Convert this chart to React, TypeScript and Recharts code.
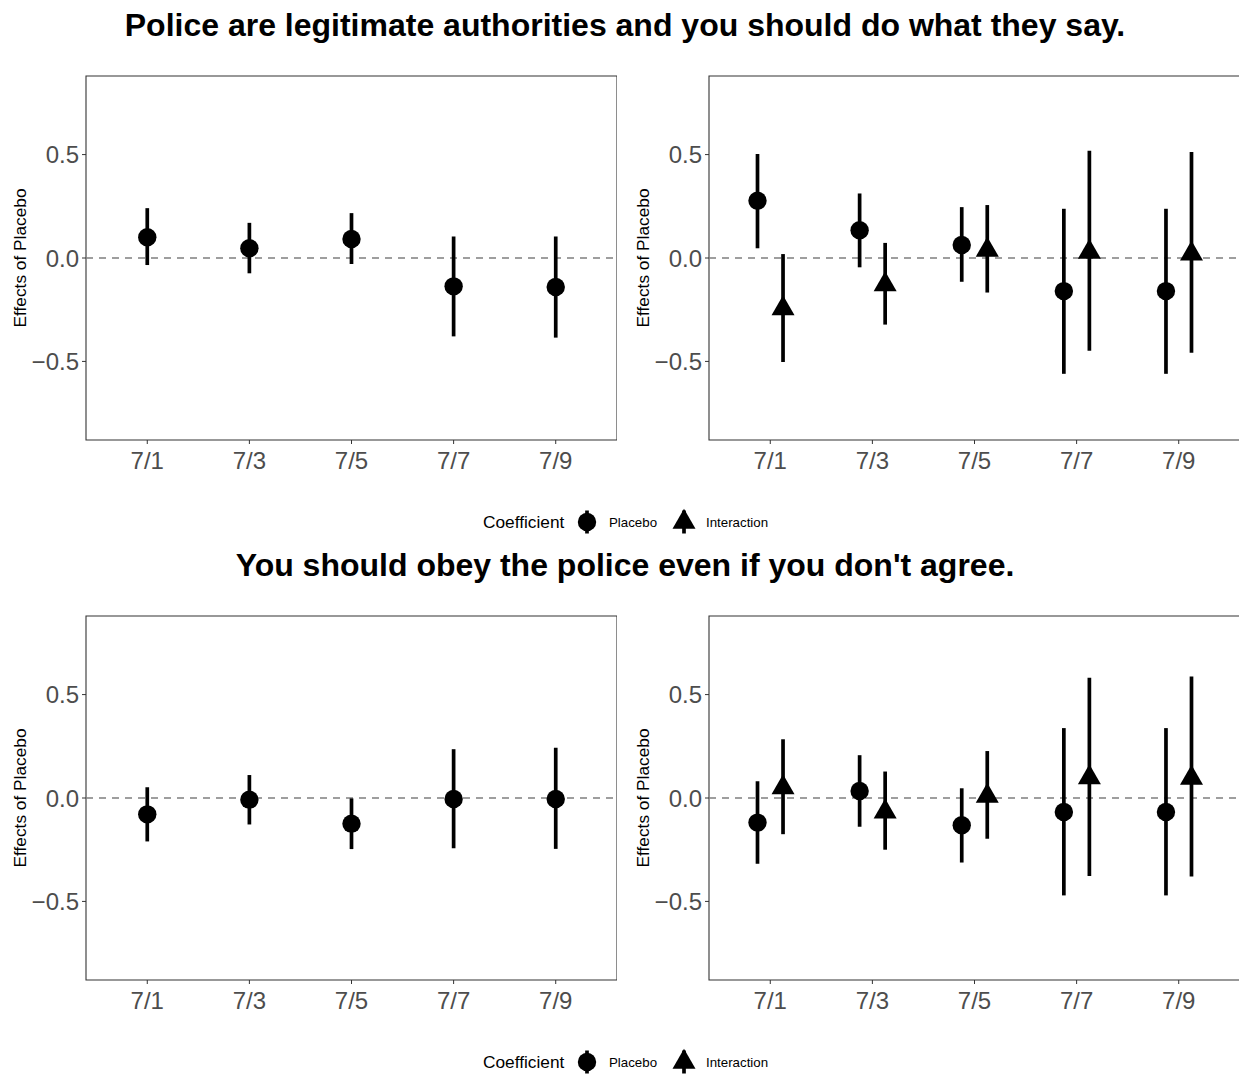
import React from 'react';
import { ComposedChart, Scatter, XAxis, YAxis, ErrorBar, ReferenceLine, ReferenceArea } from 'recharts';

const dates = ['7/1', '7/3', '7/5', '7/7', '7/9'];
const yTicks = [-0.5, 0, 0.5];

const titles = [
  'Police are legitimate authorities and you should do what they say.',
  "You should obey the police even if you don't agree.",
];
const yAxisTitle = 'Effects of Placebo';
const legendTitle = 'Coefficient';
const legendLabels = ['Placebo', 'Interaction'];

// Row 1 — left panel (Placebo only)
const r1AloneEst = [0.1, 0.047, 0.092, -0.137, -0.14];
const r1AloneLo = [-0.034, -0.074, -0.029, -0.379, -0.385];
const r1AloneHi = [0.241, 0.17, 0.217, 0.104, 0.104];
// Row 1 — right panel
const r1PlaceboEst = [0.277, 0.134, 0.063, -0.16, -0.16];
const r1PlaceboLo = [0.047, -0.045, -0.115, -0.56, -0.56];
const r1PlaceboHi = [0.503, 0.312, 0.246, 0.238, 0.238];
const r1InterEst = [-0.245, -0.128, 0.039, 0.029, 0.02];
const r1InterLo = [-0.503, -0.322, -0.167, -0.448, -0.458];
const r1InterHi = [0.019, 0.073, 0.256, 0.519, 0.513];

// Row 2 — left panel
const r2AloneEst = [-0.079, -0.008, -0.124, -0.005, -0.005];
const r2AloneLo = [-0.21, -0.128, -0.247, -0.243, -0.246];
const r2AloneHi = [0.052, 0.111, -0.002, 0.236, 0.243];
// Row 2 — right panel
const r2PlaceboEst = [-0.119, 0.034, -0.132, -0.068, -0.068];
const r2PlaceboLo = [-0.318, -0.139, -0.312, -0.471, -0.471];
const r2PlaceboHi = [0.081, 0.207, 0.047, 0.338, 0.338];
const r2InterEst = [0.05, -0.067, 0.01, 0.099, 0.097];
const r2InterLo = [-0.175, -0.25, -0.197, -0.377, -0.379];
const r2InterHi = [0.284, 0.128, 0.227, 0.581, 0.587];

const FONT = '"Liberation Sans", Arial, Helvetica, sans-serif';
const PLOT_W = 531;
const PLOT_H = 364;
const AXIS_W = 86;
const TOP_M = 10;
const X_AXIS_H = 50;
const DODGE = 0.125;
const ROW_H = 540;

function rows(est: number[], lo: number[], hi: number[], shift: number) {
  return est.map((e, i) => ({ x: i + 1 + shift, est: e, err: [e - lo[i], hi[i] - e] }));
}

const CircleShape = (p: any) =>
  p.cx == null ? <g /> : <circle cx={p.cx} cy={p.cy} r={9.2} fill="#000" />;
const TriShape = (p: any) => {
  if (p.cx == null) return <g />;
  const { cx, cy } = p;
  return (
    <polygon
      points={`${cx},${cy - 13.3} ${cx + 11.5},${cy + 6.7} ${cx - 11.5},${cy + 6.7}`}
      fill="#000"
    />
  );
};

type Series = { data: any[]; shape: any; name: string };

function Panel({ left, top, series }: { left: number; top: number; series: Series[] }) {
  return (
    <div style={{ position: 'absolute', left: left - AXIS_W, top: top - TOP_M }}>
      <ComposedChart
        width={AXIS_W + PLOT_W}
        height={TOP_M + PLOT_H + X_AXIS_H}
        margin={{ top: TOP_M, right: 0, bottom: 0, left: 0 }}
      >
        <XAxis
          type="number"
          dataKey="x"
          domain={[0.4, 5.6]}
          ticks={[1, 2, 3, 4, 5]}
          tickFormatter={(v: number) => dates[Math.round(v) - 1]}
          allowDataOverflow
          interval={0}
          height={X_AXIS_H}
          tickSize={4}
          tickMargin={8}
          axisLine={false}
          tickLine={{ stroke: '#333333', strokeWidth: 1 }}
          tick={{ fill: '#4D4D4D', fontSize: 24, fontFamily: FONT }}
        />
        <YAxis
          type="number"
          dataKey="est"
          domain={[-0.88, 0.88]}
          ticks={yTicks}
          allowDataOverflow
          interval={0}
          width={AXIS_W}
          tickSize={4}
          tickMargin={3}
          axisLine={false}
          tickLine={{ stroke: '#333333', strokeWidth: 1 }}
          tick={{ fill: '#4D4D4D', fontSize: 24, fontFamily: FONT }}
          tickFormatter={(v: number) => v.toFixed(1).replace('-', '\u2212')}
        />
        <ReferenceArea
          x1={0.4}
          x2={5.6}
          y1={-0.88}
          y2={0.88}
          fill="none"
          fillOpacity={0}
          stroke="#333333"
          strokeWidth={1.1}
          ifOverflow="visible"
        />
        <ReferenceLine y={0} stroke="#7F7F7F" strokeDasharray="7 6" strokeWidth={1.4} />
        {series.map((s) => (
          <Scatter key={s.name} name={s.name} data={s.data} shape={s.shape} isAnimationActive={false}>
            <ErrorBar
              dataKey="err"
              direction="y"
              width={0}
              stroke="#000"
              strokeWidth={3.7}
              isAnimationActive={false}
            />
          </Scatter>
        ))}
      </ComposedChart>
    </div>
  );
}

function Overlay() {
  const tri = (cx: number, cy: number) =>
    `${cx},${cy - 13.3} ${cx + 11.5},${cy + 6.7} ${cx - 11.5},${cy + 6.7}`;
  return (
    <svg
      width={1239}
      height={1076}
      style={{ position: 'absolute', left: 0, top: 0, pointerEvents: 'none' }}
      fontFamily={FONT}
    >
      {[0, 1].map((r) => {
        const R = r * ROW_H;
        return (
          <g key={r}>
            <text x={625} y={36 + R} textAnchor="middle" fontSize={32} fontWeight="bold" fill="#000">
              {titles[r]}
            </text>
            <text
              transform={`translate(25.5, ${258 + R}) rotate(-90)`}
              textAnchor="middle"
              fontSize={17.3}
              fill="#000"
            >
              {yAxisTitle}
            </text>
            <text
              transform={`translate(648.5, ${258 + R}) rotate(-90)`}
              textAnchor="middle"
              fontSize={17.3}
              fill="#000"
            >
              {yAxisTitle}
            </text>
            <text x={483} y={528 + R} fontSize={17.3} fill="#000">
              {legendTitle}
            </text>
            <line x1={587} x2={587} y1={510.5 + R} y2={533.5 + R} stroke="#000" strokeWidth={3.7} />
            <circle cx={587} cy={522 + R} r={9.2} fill="#000" />
            <text x={609} y={527 + R} fontSize={13.3} fill="#000">
              {legendLabels[0]}
            </text>
            <line x1={684} x2={684} y1={510.5 + R} y2={533.5 + R} stroke="#000" strokeWidth={3.7} />
            <polygon points={tri(684, 522 + R)} fill="#000" />
            <text x={706} y={527 + R} fontSize={13.3} fill="#000">
              {legendLabels[1]}
            </text>
          </g>
        );
      })}
    </svg>
  );
}

export default function App() {
  return (
    <div
      style={{
        position: 'absolute',
        left: 0,
        top: 0,
        width: 1239,
        height: 1076,
        overflow: 'hidden',
        background: '#fff',
        fontFamily: FONT,
      }}
    >
      <Panel
        left={86}
        top={76}
        series={[{ name: 'Placebo', data: rows(r1AloneEst, r1AloneLo, r1AloneHi, 0), shape: CircleShape }]}
      />
      <Panel
        left={709}
        top={76}
        series={[
          { name: 'Placebo', data: rows(r1PlaceboEst, r1PlaceboLo, r1PlaceboHi, -DODGE), shape: CircleShape },
          { name: 'Interaction', data: rows(r1InterEst, r1InterLo, r1InterHi, DODGE), shape: TriShape },
        ]}
      />
      <Panel
        left={86}
        top={76 + ROW_H}
        series={[{ name: 'Placebo', data: rows(r2AloneEst, r2AloneLo, r2AloneHi, 0), shape: CircleShape }]}
      />
      <Panel
        left={709}
        top={76 + ROW_H}
        series={[
          { name: 'Placebo', data: rows(r2PlaceboEst, r2PlaceboLo, r2PlaceboHi, -DODGE), shape: CircleShape },
          { name: 'Interaction', data: rows(r2InterEst, r2InterLo, r2InterHi, DODGE), shape: TriShape },
        ]}
      />
      <Overlay />
    </div>
  );
}
